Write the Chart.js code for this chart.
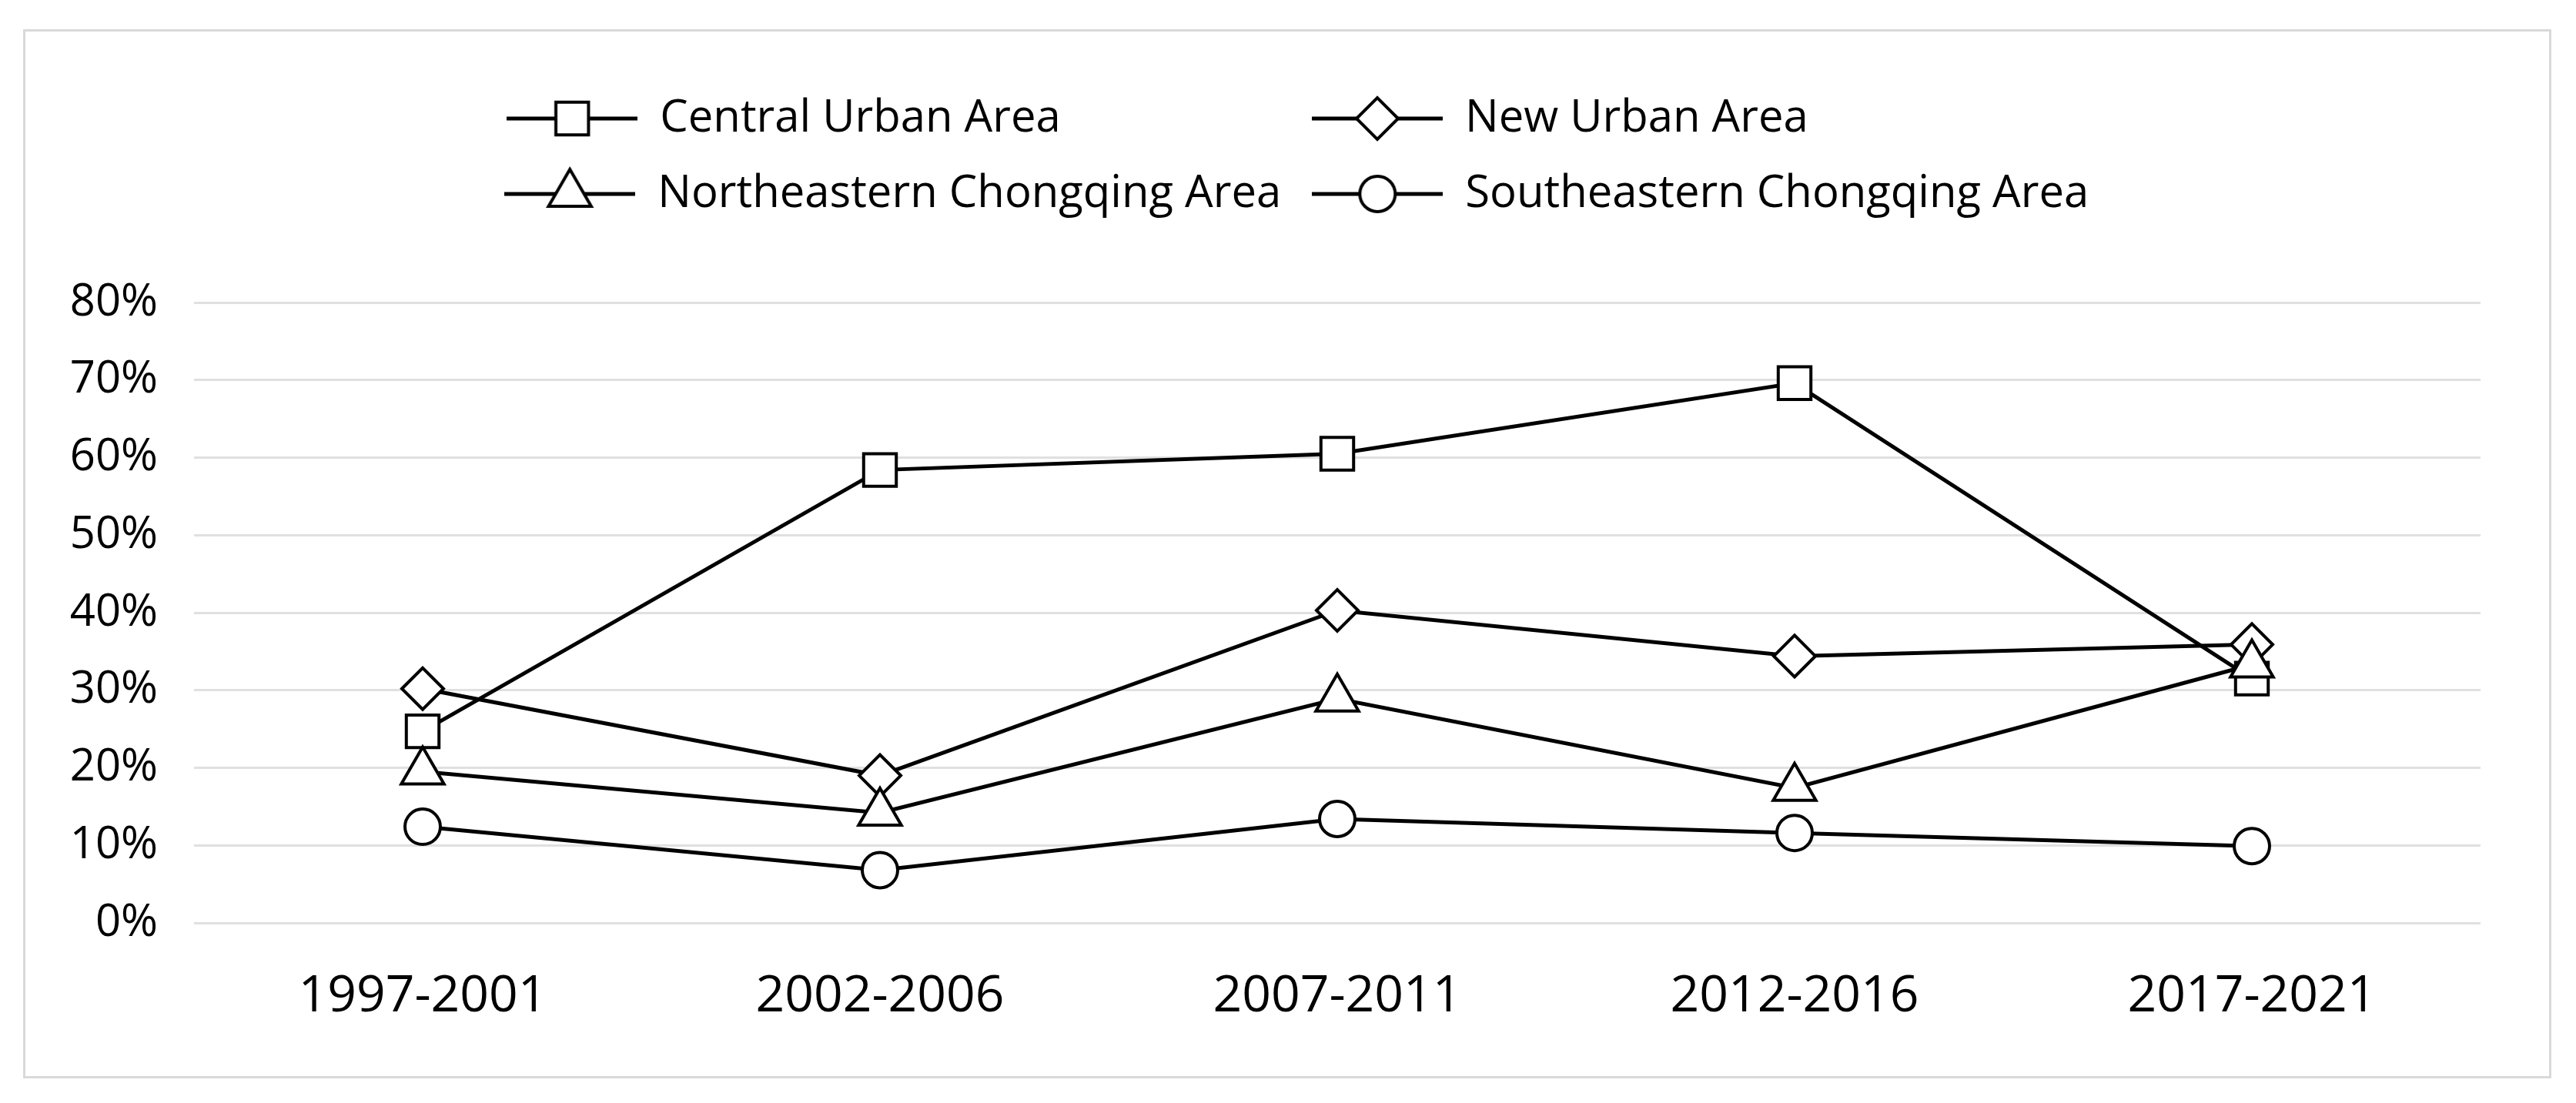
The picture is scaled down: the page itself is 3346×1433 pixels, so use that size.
<!DOCTYPE html>
<html>
<head>
<meta charset="utf-8">
<script src="https://cdn.jsdelivr.net/npm/chart.js@4.4.1/dist/chart.umd.min.js"></script>
<style>
  html, body { margin: 0; padding: 0; background: #ffffff; }
  #wrap { position: absolute; left: 30px; top: 38px; width: 3284px; height: 1363px;
          border: 3px solid #d9d9d9; box-sizing: border-box; background: #fff; }
  #c { display: block; }
</style>
</head>
<body>
<div id="wrap"><canvas id="c"></canvas></div>
<script>
// ---- data ----
const categories = ['1997-2001', '2002-2006', '2007-2011', '2012-2016', '2017-2021'];
const seriesNames = ['Central Urban Area', 'New Urban Area', 'Northeastern Chongqing Area', 'Southeastern Chongqing Area'];
const centralUrban = [24.7, 58.4, 60.5, 69.6, 31.5];
const newUrban     = [30.2, 19.0, 40.3, 34.4, 35.9];
const northeastern = [19.5, 14.2, 28.9, 17.4, 33.3];
const southeastern = [12.4, 6.8, 13.4, 11.6, 9.9];
const yTickValues  = [0, 10, 20, 30, 40, 50, 60, 70, 80];

// ---- styles ----
const FONT = '"Open Sans", "Noto Sans", sans-serif';
const pointStyles = ['rect', 'rectRot', 'triangle', 'circle'];
const pointRadii  = [30, 27, 32, 23];
const seriesData  = [centralUrban, newUrban, northeastern, southeastern];
const drawOrder   = [4, 3, 2, 1];
const LEG_FONT = 58;
const LEG_LINE = 170;
const LEG_SHIFT = 106;   // extra trailing room on the right column, recentres the legend block

function drawShape(g, style, r, x, y) {
  if (Chart.helpers && Chart.helpers.drawPoint) {
    Chart.helpers.drawPoint(g, { pointStyle: style, radius: r, borderWidth: 4, rotation: 0 }, x, y);
    return;
  }
  g.beginPath();
  if (style === 'rect') { const s = r * Math.SQRT1_2; g.rect(x - s, y - s, 2 * s, 2 * s); }
  else if (style === 'rectRot') { g.moveTo(x - r, y); g.lineTo(x, y - r); g.lineTo(x + r, y); g.lineTo(x, y + r); g.closePath(); }
  else if (style === 'triangle') { g.moveTo(x, y - r); g.lineTo(x + r * 0.866, y + r / 2); g.lineTo(x - r * 0.866, y + r / 2); g.closePath(); }
  else { g.arc(x, y, r, 0, Math.PI * 2); }
  g.fill(); g.stroke();
}

function makeGlyph(style, r) {
  const c = document.createElement('canvas');
  c.width = LEG_LINE; c.height = 80;
  const g = c.getContext('2d');
  g.strokeStyle = '#000'; g.lineWidth = 5;
  g.beginPath(); g.moveTo(0, 40); g.lineTo(LEG_LINE, 40); g.stroke();
  g.fillStyle = '#fff'; g.strokeStyle = '#000'; g.lineWidth = 4;
  drawShape(g, style, r, LEG_LINE / 2, 40);
  return c;
}

function padTo(ctx, text, target) {
  let t = text, n = 0;
  while (ctx.measureText(t + ' ').width <= target + 0.5 && n++ < 300) t += ' ';
  n = 0;
  while (ctx.measureText(t + '\u200A').width <= target + 0.5 &&
         ctx.measureText(t + '\u200A').width > ctx.measureText(t).width && n++ < 50) t += '\u200A';
  return t;
}

const glyphs = pointStyles.map((s, i) => makeGlyph(s, pointRadii[i]));

const datasets = seriesNames.map((name, i) => ({
  label: name,
  data: seriesData[i],
  borderColor: '#000',
  backgroundColor: '#fff',
  borderWidth: 5,
  tension: 0,
  pointStyle: pointStyles[i],
  pointRadius: pointRadii[i],
  pointHoverRadius: pointRadii[i],
  pointBackgroundColor: '#fff',
  pointBorderColor: '#000',
  pointBorderWidth: 4,
  order: drawOrder[i]
}));

const legendGap = {
  id: 'legendGap',
  afterInit(chart) {
    const lg = chart.legend;
    if (!lg || lg._gapPatched) return;
    const orig = lg.fit;
    lg.fit = function () { orig.call(this); this.height += 102; };
    lg._gapPatched = true;
  }
};

new Chart(document.getElementById('c'), {
  type: 'line',
  data: { labels: categories, datasets },
  plugins: [legendGap],
  options: {
    responsive: true,
    maintainAspectRatio: false,
    animation: false,
    layout: { padding: { left: 30, right: 89, top: 44, bottom: 0 } },
    plugins: {
      tooltip: { enabled: false },
      legend: {
        position: 'top',
        align: 'center',
        fullSize: false,
        labels: {
          usePointStyle: true,
          pointStyleWidth: LEG_LINE,
          padding: 40,
          color: '#000',
          font: { family: FONT, size: LEG_FONT },
          generateLabels(chart) {
            const ctx = chart.ctx;
            ctx.save();
            ctx.font = LEG_FONT + 'px ' + FONT;
            const w = seriesNames.map(t => ctx.measureText(t).width);
            const texts = seriesNames.map((t, i) => {
              const partner = i < 2 ? i + 2 : i - 2;
              const extra = (i % 2 === 1) ? LEG_SHIFT : 0;
              return padTo(ctx, t, Math.max(w[i], w[partner]) + extra);
            });
            ctx.restore();
            return seriesNames.map((t, i) => ({
              text: texts[i],
              datasetIndex: i,
              pointStyle: glyphs[i],
              fillStyle: '#fff',
              strokeStyle: '#000',
              lineWidth: 0,
              fontColor: '#000',
              hidden: false
            }));
          }
        }
      }
    },
    scales: {
      x: {
        offset: true,
        grid: { display: false, drawTicks: false },
        border: { display: false },
        ticks: { color: '#000', padding: 57, font: { family: FONT, size: 66 }, maxRotation: 0 },
        afterFit(s) { s.height = 199; }
      },
      y: {
        position: 'left',
        min: 0,
        max: 80,
        grid: { color: '#e0e0e0', lineWidth: 3, drawTicks: false },
        border: { display: false },
        afterBuildTicks(s) { s.ticks = yTickValues.map(v => ({ value: v })); },
        ticks: {
          color: '#000',
          padding: 47,
          font: { family: FONT, size: 58 },
          callback: v => v + '%'
        },
        afterFit(s) { s.width = 189; }
      }
    }
  }
});
</script>
</body>
</html>
